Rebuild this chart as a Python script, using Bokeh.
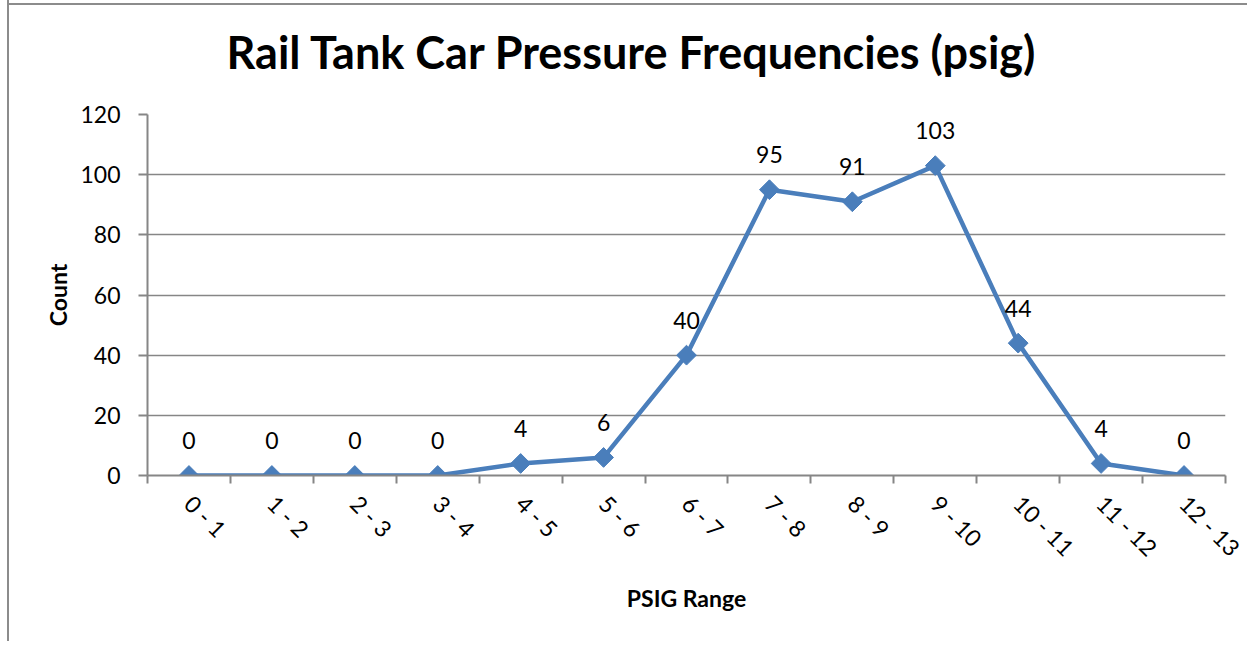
import numpy as np
from bokeh.plotting import figure
from bokeh.models import Range1d, FixedTicker, ColumnDataSource
from bokeh.core.properties import value
from bokeh.embed import file_html
from bokeh.resources import INLINE

title_text = "Rail Tank Car Pressure Frequencies (psig)"
categories = ["0 - 1", "1 - 2", "2 - 3", "3 - 4", "4 - 5", "5 - 6", "6 - 7",
              "7 - 8", "8 - 9", "9 - 10", "10 - 11", "11 - 12", "12 - 13"]
counts = [0, 0, 0, 0, 4, 6, 40, 95, 91, 103, 44, 4, 0]
y_ticks = [0, 20, 40, 60, 80, 100, 120]

FONT = "Lato"
BLUE = "#4A7EBB"
GRAY = "#868686"

xs = [i + 0.5 for i in range(len(categories))]
src = ColumnDataSource(dict(x=xs, y=counts, lbl=[str(c) for c in counts]))

p = figure(width=1240, height=655, output_backend="svg", toolbar_location=None,
           x_range=Range1d(0, len(categories)), y_range=Range1d(0, 120),
           title=title_text)
p.styles = {"margin-left": "7px", "margin-top": "-14px",
            "border-left": "2px solid #8c8c8c",
            "background": "linear-gradient(#8c8c8c, #8c8c8c) 0 17px / 100% 2px no-repeat, white"}
p.min_border_left = 138
p.min_border_right = 24
p.min_border_top = 60
p.min_border_bottom = 166
p.outline_line_color = None
p.background_fill_color = "white"
p.border_fill_color = None

p.title.text_font = FONT
p.title.text_font_size = "45px"
p.title.text_font_style = "bold"
p.title.text_color = "black"
p.title.align = "left"
p.title.offset = 79
p.title.standoff = 72

# x axis
p.xaxis.ticker = FixedTicker(ticks=xs, minor_ticks=list(range(len(categories) + 1)))
p.xaxis.major_label_overrides = {x: c for x, c in zip(xs, categories)}
p.xaxis.major_label_orientation = -np.pi / 4
p.xaxis.major_tick_line_color = None
p.xaxis.major_tick_out = 0
p.xaxis.major_tick_in = 0
p.xaxis.minor_tick_out = 8
p.xaxis.minor_tick_in = 0
p.xaxis.minor_tick_line_color = GRAY
p.xaxis.minor_tick_line_width = 2
p.xaxis.major_label_standoff = 16
p.xaxis.axis_label = "PSIG Range"
p.xaxis.axis_label_standoff = 10

# y axis
p.yaxis.ticker = FixedTicker(ticks=y_ticks)
p.yaxis.minor_tick_line_color = None
p.yaxis.major_tick_out = 9
p.yaxis.major_tick_in = 0
p.yaxis.major_tick_line_color = GRAY
p.yaxis.major_tick_line_width = 2
p.yaxis.major_label_standoff = 18
p.yaxis.axis_label = "Count"
p.yaxis.axis_label_standoff = 5

for ax in (p.xaxis, p.yaxis):
    ax.axis_line_color = GRAY
    ax.axis_line_width = 2
    ax.major_label_text_font = FONT
    ax.major_label_text_font_size = "23px"
    ax.major_label_text_color = "black"
    ax.axis_label_text_font = FONT
    ax.axis_label_text_font_size = "23px"
    ax.axis_label_text_font_style = "bold"
    ax.axis_label_text_color = "black"

p.xgrid.grid_line_color = None
p.ygrid.ticker = FixedTicker(ticks=y_ticks)
p.ygrid.grid_line_color = GRAY
p.ygrid.grid_line_width = 1.5

p.line("x", "y", source=src, line_color=BLUE, line_width=4.5)
p.scatter("x", "y", source=src, marker="square", angle=np.pi / 4, size=14,
          fill_color=BLUE, line_color=BLUE)
p.text("x", "y", text="lbl", source=src, y_offset=-35, text_align="center",
       text_baseline="middle", text_font=value(FONT), text_font_size="23px",
       text_color="black")

open("out.html", "w").write(file_html(p, INLINE))
